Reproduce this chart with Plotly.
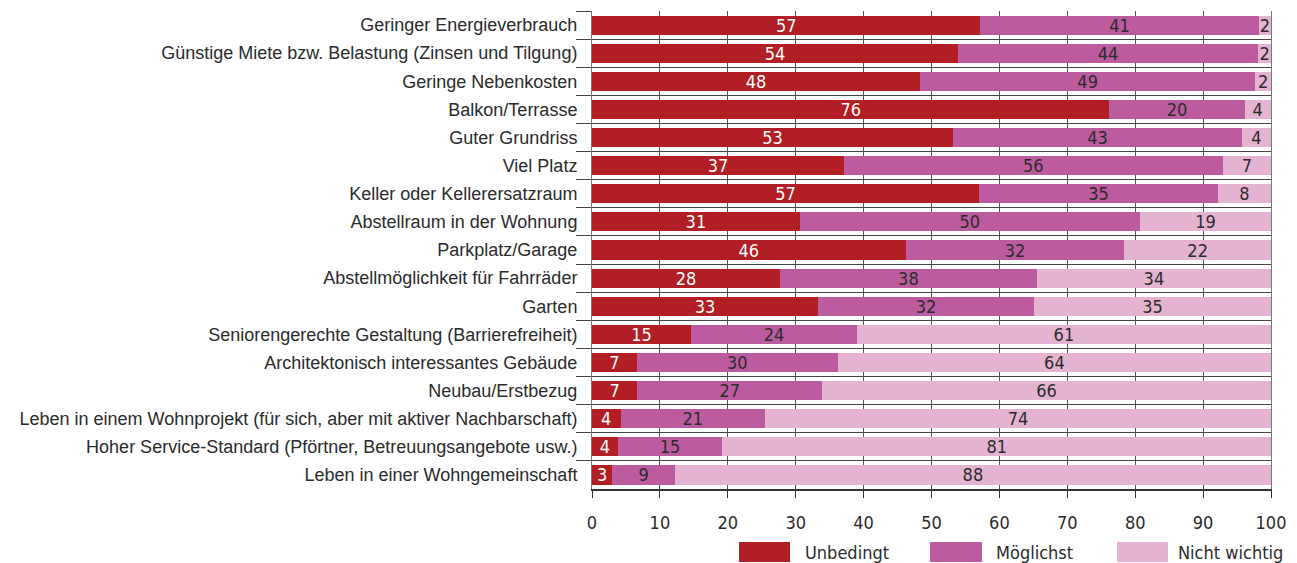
import plotly.graph_objects as go

# Merkmale (von oben nach unten)
merkmale = [
    "Geringer Energieverbrauch",
    "Günstige Miete bzw. Belastung (Zinsen und Tilgung)",
    "Geringe Nebenkosten",
    "Balkon/Terrasse",
    "Guter Grundriss",
    "Viel Platz",
    "Keller oder Kellerersatzraum",
    "Abstellraum in der Wohnung",
    "Parkplatz/Garage",
    "Abstellmöglichkeit für Fahrräder",
    "Garten",
    "Seniorengerechte Gestaltung (Barrierefreiheit)",
    "Architektonisch interessantes Gebäude",
    "Neubau/Erstbezug",
    "Leben in einem Wohnprojekt (für sich, aber mit aktiver Nachbarschaft)",
    "Hoher Service-Standard (Pförtner, Betreuungsangebote usw.)",
    "Leben in einer Wohngemeinschaft",
]

# Anteile in Prozent (Balkenlängen, aus dem Bild geschätzt)
unbedingt = [57.2, 53.9, 48.3, 76.2, 53.2, 37.1, 57.0, 30.6, 46.2, 27.7, 33.3, 14.6, 6.6, 6.7, 4.2, 3.8, 3.0]
moeglichst = [41.0, 44.2, 49.4, 19.9, 42.5, 55.8, 35.2, 50.1, 32.2, 37.8, 31.8, 24.4, 29.6, 27.2, 21.3, 15.4, 9.2]
nicht_wichtig = [1.8, 1.9, 2.3, 3.9, 4.3, 7.1, 7.8, 19.3, 21.6, 34.5, 34.9, 61.0, 63.8, 66.1, 74.5, 80.8, 87.8]

# gerundete Beschriftungen
lbl_unbedingt = [57, 54, 48, 76, 53, 37, 57, 31, 46, 28, 33, 15, 7, 7, 4, 4, 3]
lbl_moeglichst = [41, 44, 49, 20, 43, 56, 35, 50, 32, 38, 32, 24, 30, 27, 21, 15, 9]
lbl_nicht = [2, 2, 2, 4, 4, 7, 8, 19, 22, 34, 35, 61, 64, 66, 74, 81, 88]

serien = ["Unbedingt", "Möglichst", "Nicht wichtig"]
farben = ["#B11E23", "#BD5BA1", "#E4B3D1"]
textfarben = ["white", "#2b2b2b", "#2b2b2b"]

num_font = "Liberation Sans Narrow, DejaVu Sans Condensed, Liberation Sans, sans-serif"
label_font = "Liberation Sans, Arial, sans-serif"

fig = go.Figure()
for name, werte, lbl, farbe, tf in zip(
    serien,
    [unbedingt, moeglichst, nicht_wichtig],
    [lbl_unbedingt, lbl_moeglichst, lbl_nicht],
    farben,
    textfarben,
):
    fig.add_trace(go.Bar(
        y=merkmale,
        x=werte,
        orientation="h",
        name=name,
        marker=dict(color=farbe, line=dict(width=0)),
        text=[str(v) for v in lbl],
        textposition="inside",
        insidetextanchor="middle",
        textangle=0,
        textfont=dict(color=tf, size=18, family=num_font),
        cliponaxis=False,
        showlegend=False,
        hoverinfo="skip",
    ))

# Seite hat 8px Rand im Browser -> Abbildung entsprechend kleiner
fig.update_layout(
    barmode="stack",
    bargap=0.32,
    width=1289,
    height=555,
    margin=dict(l=584, r=26, t=3, b=74),
    paper_bgcolor="white",
    plot_bgcolor="white",
    uniformtext=dict(minsize=18, mode="show"),
    font=dict(family=label_font, color="#2b2b2b"),
)

fig.update_xaxes(
    range=[0, 100],
    dtick=10,
    showgrid=True,
    gridcolor="#555555",
    gridwidth=1,
    showline=True,
    linecolor="#333333",
    linewidth=1.5,
    ticks="outside",
    ticklen=7,
    tickcolor="#333333",
    ticklabelstandoff=10,
    tickfont=dict(size=18, family=num_font, color="#2b2b2b"),
    zeroline=False,
    fixedrange=True,
)

fig.update_yaxes(
    autorange="reversed",
    tickson="boundaries",
    ticks="outside",
    ticklen=15,
    tickcolor="#444444",
    ticklabelstandoff=10,
    showgrid=True,
    gridcolor="#444444",
    gridwidth=1.4,
    showline=True,
    mirror=True,
    linecolor="#777777",
    linewidth=1,
    tickfont=dict(size=18, family=label_font, color="#2b2b2b"),
    fixedrange=True,
)

# Legende unten rechts
legende_x = [(0.2165, 0.2916, 0.3107), (0.4978, 0.5744, 0.5920), (0.7732, 0.8483, 0.8601)]
for name, farbe, (x0, x1, tx) in zip(serien, farben, legende_x):
    fig.add_shape(type="rect", xref="paper", yref="paper",
                  x0=x0, x1=x1, y0=-0.1527, y1=-0.1109,
                  fillcolor=farbe, line=dict(width=0))
    fig.add_annotation(xref="paper", yref="paper", x=tx, y=-0.1318,
                       text=name, showarrow=False, xanchor="left", yanchor="middle",
                       font=dict(size=18, family=num_font, color="#2b2b2b"))

fig.write_html("out.html")
